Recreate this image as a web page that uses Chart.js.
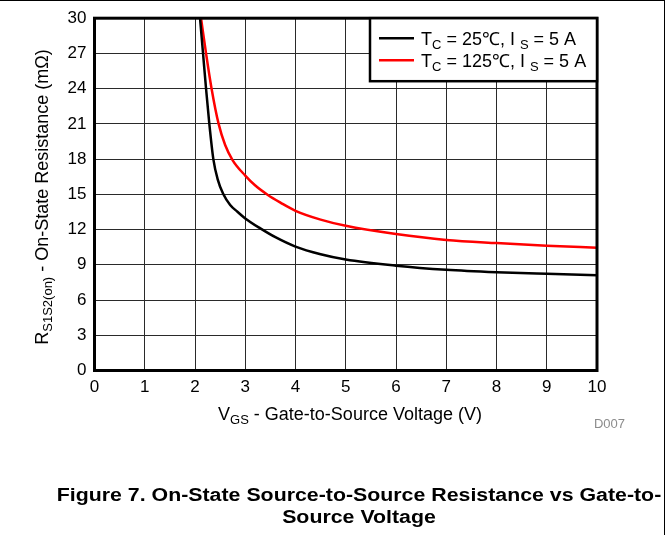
<!DOCTYPE html>
<html>
<head>
<meta charset="utf-8">
<script src="https://cdn.jsdelivr.net/npm/chart.js@4.4.1/dist/chart.umd.min.js"></script>
<style>
html, body { margin: 0; padding: 0; background: #fff; }
#wrap { position: relative; width: 669px; height: 535px; overflow: hidden; }
#frame { position: absolute; left: 0; top: 0; width: 665px; height: 540px;
         border-top: 1px solid #000; border-right: 1px solid #000; box-sizing: border-box; }
#chart { position: absolute; left: 0; top: 0; }
#caption { position: absolute; left: 359px; top: 484px; white-space: nowrap; text-align: center;
           transform: translateX(-50%) scaleX(1.185); transform-origin: center;
           font: bold 18px 'Liberation Sans', Arial, sans-serif; line-height: 22px; color: #000; }
</style>
</head>
<body>
<div id="wrap">
  <canvas id="chart" width="669" height="535"></canvas>
  <div id="frame"></div>
  <div id="caption">Figure 7. On-State Source-to-Source Resistance vs Gate-to-<br>Source Voltage</div>
</div>
<script>
const FONT = "'Liberation Sans', Arial, sans-serif";

// Tc = 25°C, Is = 5 A
const vgs25 = [2.10, 2.16, 2.22, 2.285, 2.365, 2.45, 2.56, 2.7, 2.85, 3.0, 3.3, 3.6, 4, 4.5, 5, 6, 7, 8, 9, 10];
const rds25 = [30, 27, 24, 21, 18, 16.3, 15.05, 14.1, 13.5, 12.95, 12.1, 11.35, 10.55, 9.9, 9.45, 8.93, 8.58, 8.37, 8.23, 8.11];

// Tc = 125°C, Is = 5 A
const vgs125 = [2.12, 2.22, 2.33, 2.47, 2.6, 2.75, 3.0, 3.2, 3.45, 3.7, 4, 4.5, 5, 6, 7, 8, 9, 10];
const rds125 = [30, 27, 24, 21, 19.2, 17.9, 16.6, 15.75, 14.95, 14.3, 13.6, 12.85, 12.32, 11.62, 11.12, 10.85, 10.63, 10.45];

const xTicks = [0, 1, 2, 3, 4, 5, 6, 7, 8, 9, 10];
const yTicks = [0, 3, 6, 9, 12, 15, 18, 21, 24, 27, 30];

const legendRows = [
    { color: '#000000', parts: [['T'], ['C', 1], [' = 25℃, I '], ['S', 1], [' = 5 A']] },
    { color: '#ff0000', parts: [['T'], ['C', 1], [' = 125℃, I '], ['S', 1], [' = 5 A']] },
];
const xTitle = [['V'], ['GS', 1], [' - Gate-to-Source Voltage (V)']];
const yTitle = [['R'], ['S1S2(on)', 1], [' - On-State Resistance (mΩ)']];

const toPts = (xs, ys) => xs.map((x, i) => ({ x, y: ys[i] }));

// text with subscripts
function richWidth(ctx, parts, size, sub) {
    let w = 0;
    for (const [t, s] of parts) {
        ctx.font = `${s ? sub : size}px ${FONT}`;
        w += ctx.measureText(t).width;
    }
    return w;
}
function drawRich(ctx, parts, x, y, size, sub) {
    for (const [t, s] of parts) {
        ctx.font = `${s ? sub : size}px ${FONT}`;
        ctx.fillText(t, x, y + (s ? sub * 0.3 : 0));
        x += ctx.measureText(t).width;
    }
}

const decor = {
    id: 'decor',
    afterDraw(chart) {
        const { ctx, chartArea: a } = chart;
        ctx.save();
        ctx.fillStyle = '#000';
        ctx.textBaseline = 'alphabetic';
        ctx.textAlign = 'left';

        // plot frame
        ctx.lineWidth = 3;
        ctx.strokeStyle = '#000';
        ctx.strokeRect(a.left, a.top, a.right - a.left, a.bottom - a.top);

        // legend box
        const bx = a.right - 227, by = a.top, bw = 227, bh = 63;
        ctx.fillStyle = '#fff';
        ctx.fillRect(bx, by, bw, bh);
        ctx.lineWidth = 2.5;
        ctx.strokeRect(bx, by, bw, bh);
        legendRows.forEach((row, i) => {
            const ly = by + 20 + i * 22;
            ctx.strokeStyle = row.color;
            ctx.lineWidth = 2.5;
            ctx.beginPath();
            ctx.moveTo(bx + 9, ly);
            ctx.lineTo(bx + 44, ly);
            ctx.stroke();
            ctx.fillStyle = '#000';
            drawRich(ctx, row.parts, bx + 51, ly + 7, 18, 13);
        });

        // x title
        const xw = richWidth(ctx, xTitle, 18, 13);
        drawRich(ctx, xTitle, 350 - xw / 2, 420, 18, 13);

        // y title
        const yw = richWidth(ctx, yTitle, 18, 13);
        ctx.translate(48, 197);
        ctx.rotate(-Math.PI / 2);
        drawRich(ctx, yTitle, -yw / 2, 0, 18, 13);
        ctx.setTransform(1, 0, 0, 1, 0, 0);

        // figure id
        ctx.fillStyle = '#8c8c8c';
        ctx.font = `13px ${FONT}`;
        ctx.textAlign = 'right';
        ctx.fillText('D007', 625, 428);
        ctx.restore();
    }
};

const tickFont = { family: FONT, size: 17 };

new Chart(document.getElementById('chart'), {
    type: 'line',
    data: {
        datasets: [
            { data: toPts(vgs25, rds25), borderColor: '#000000', borderWidth: 2.5,
              pointRadius: 0, cubicInterpolationMode: 'monotone' },
            { data: toPts(vgs125, rds125), borderColor: '#ff0000', borderWidth: 2.5,
              pointRadius: 0, cubicInterpolationMode: 'monotone' },
        ]
    },
    options: {
        responsive: false, animation: false, events: [],
        layout: { padding: { top: 16, right: 72, left: 0, bottom: 0 } },
        plugins: { legend: { display: false }, tooltip: { enabled: false } },
        scales: {
            x: {
                type: 'linear', min: 0, max: 10,
                afterBuildTicks: s => { s.ticks = xTicks.map(v => ({ value: v })); },
                afterFit: s => { s.height = 164.5; },
                ticks: { color: '#000', font: tickFont, padding: 7 },
                grid: { color: '#2a2a2a', lineWidth: 1, drawTicks: false },
                border: { display: false },
            },
            y: {
                type: 'linear', min: 0, max: 30,
                afterBuildTicks: s => { s.ticks = yTicks.map(v => ({ value: v })); },
                afterFit: s => { s.width = 94.5; },
                ticks: { color: '#000', font: tickFont, padding: 8 },
                grid: { color: '#2a2a2a', lineWidth: 1, drawTicks: false },
                border: { display: false },
            }
        }
    },
    plugins: [decor]
});
</script>
</body>
</html>
